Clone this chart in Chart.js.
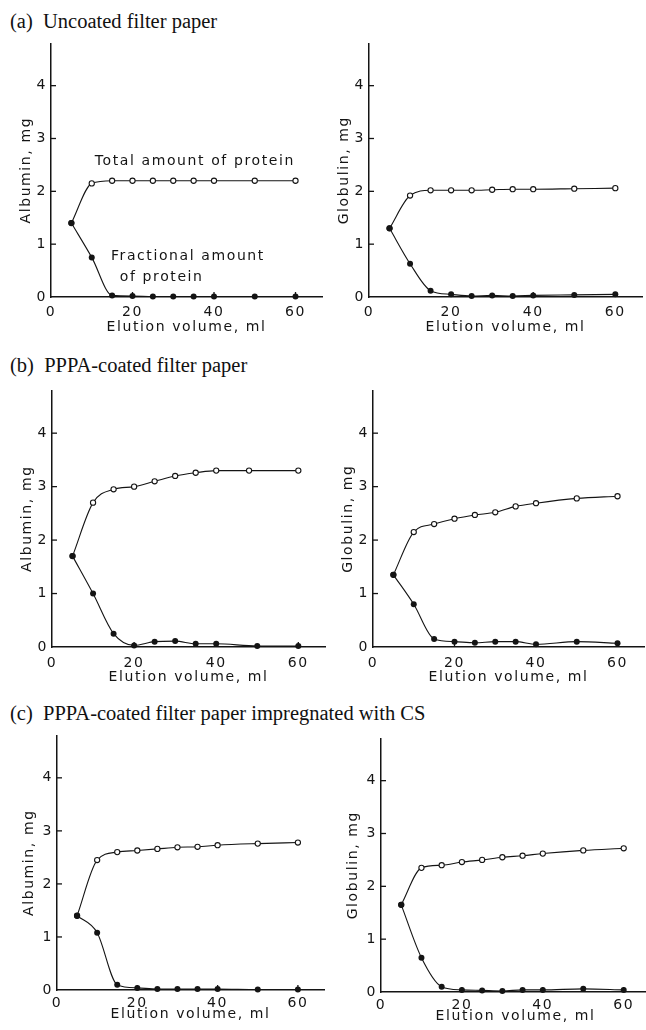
<!DOCTYPE html>
<html>
<head>
<meta charset="utf-8">
<script src="https://cdn.jsdelivr.net/npm/chart.js@4.4.1/dist/chart.umd.min.js"></script>
<style>
    body { margin: 0; background: #fff; width: 646px; height: 1030px; overflow: hidden; position: relative; }
    .cap { position: absolute; left: 10px; font-family: "Liberation Serif", serif; font-size: 20.5px; color: #111; white-space: nowrap; line-height: 22px; }
    canvas { position: absolute; }
</style>
</head>
<body>
<div class="cap" style="top:10px">(a)&nbsp; Uncoated filter paper</div>
<div class="cap" style="top:354px">(b)&nbsp; PPPA-coated filter paper</div>
<div class="cap" style="top:702px">(c)&nbsp; PPPA-coated filter paper impregnated with CS</div>

<canvas id="aL"></canvas>
<canvas id="aR"></canvas>
<canvas id="bL"></canvas>
<canvas id="bR"></canvas>
<canvas id="cL"></canvas>
<canvas id="cR"></canvas>

<script>
// elution volume (ml) at which fractions were taken
const volume = [5, 10, 15, 20, 25, 30, 35, 40, 50, 60];
const volumeAlbuminTotalB = [5, 10, 15, 20, 25, 30, 35, 40, 48, 60];
const xTicks = [0, 20, 40, 60];
const yTicks = [0, 1, 2, 3, 4];

// (a) uncoated filter paper
const albuminTotalA = [1.4, 2.15, 2.2, 2.2, 2.2, 2.2, 2.2, 2.2, 2.2, 2.2];
const albuminFracA = [1.4, 0.75, 0.03, 0.02, 0.01, 0.01, 0.01, 0.01, 0.01, 0.01];
const globulinTotalA = [1.3, 1.92, 2.02, 2.02, 2.02, 2.03, 2.04, 2.04, 2.05, 2.06];
const globulinFracA = [1.3, 0.63, 0.12, 0.05, 0.02, 0.03, 0.02, 0.03, 0.04, 0.05];

// (b) PPPA-coated filter paper
const albuminTotalB = [1.7, 2.7, 2.95, 3.0, 3.1, 3.2, 3.26, 3.3, 3.3, 3.3];
const albuminFracB = [1.7, 1.0, 0.25, 0.03, 0.1, 0.11, 0.06, 0.06, 0.02, 0.02];
const globulinTotalB = [1.35, 2.15, 2.3, 2.4, 2.47, 2.52, 2.63, 2.69, 2.78, 2.82];
const globulinFracB = [1.35, 0.8, 0.15, 0.1, 0.08, 0.1, 0.1, 0.05, 0.1, 0.07];

// (c) PPPA-coated filter paper impregnated with CS
const albuminTotalC = [1.4, 2.45, 2.6, 2.63, 2.66, 2.69, 2.7, 2.73, 2.76, 2.78];
const albuminFracC = [1.4, 1.08, 0.1, 0.04, 0.02, 0.02, 0.02, 0.02, 0.01, 0.01];
const globulinTotalC = [1.65, 2.35, 2.4, 2.46, 2.5, 2.55, 2.58, 2.62, 2.68, 2.72];
const globulinFracC = [1.65, 0.65, 0.1, 0.04, 0.03, 0.02, 0.04, 0.04, 0.06, 0.04];

const INK = '#141414';
const FONT = { family: 'DejaVu Sans', size: 14 };
const Y_W = 50, TOP_PAD = 12, RIGHT_PAD = 6, X_H = 44;

function toPoints(xs, ys) {
    return xs.map((x, i) => ({ x: x, y: ys[i] }));
}

// wide lettering like the original typewriter-style labels
const spacing = {
    id: 'spacing',
    beforeUpdate(chart) { chart.ctx.letterSpacing = '1.6px'; },
    beforeDraw(chart) { chart.ctx.letterSpacing = '1.6px'; }
};

// tick marks point inwards in the original
const innerTicks = {
    id: 'innerTicks',
    beforeDatasetsDraw(chart) {
        const { ctx, chartArea, scales } = chart;
        ctx.save();
        ctx.strokeStyle = INK;
        ctx.lineWidth = 1.3;
        scales.x.ticks.forEach(t => {
            if (t.value === 0) return;
            const px = scales.x.getPixelForValue(t.value);
            ctx.beginPath();
            ctx.moveTo(px, chartArea.bottom);
            ctx.lineTo(px, chartArea.bottom - 5);
            ctx.stroke();
        });
        scales.y.ticks.forEach(t => {
            if (t.value === 0) return;
            const py = scales.y.getPixelForValue(t.value);
            ctx.beginPath();
            ctx.moveTo(chartArea.left, py);
            ctx.lineTo(chartArea.left + 5, py);
            ctx.stroke();
        });
        ctx.restore();
    }
};

const notes = {
    id: 'notes',
    afterDatasetsDraw(chart, args, opts) {
        if (!opts.items) return;
        const { ctx, scales } = chart;
        ctx.save();
        ctx.fillStyle = INK;
        ctx.font = `${FONT.size}px "${FONT.family}"`;
        ctx.textBaseline = 'middle';
        opts.items.forEach(n => {
            ctx.textAlign = n.align;
            ctx.fillText(n.text, scales.x.getPixelForValue(n.x), scales.y.getPixelForValue(n.y));
        });
        ctx.restore();
    }
};

Chart.register(spacing, innerTicks, notes);

function renderPanel(canvasId, box, yLabel, total, frac, gaps, noteItems) {
    const canvas = document.getElementById(canvasId);
    const w = Y_W + (box.right - box.left) + RIGHT_PAD;
    const h = TOP_PAD + (box.bottom - box.top) + X_H;
    canvas.width = w;
    canvas.height = h;
    canvas.style.left = (box.left - Y_W) + 'px';
    canvas.style.top = (box.top - TOP_PAD) + 'px';

    new Chart(canvas.getContext('2d'), {
        type: 'line',
        data: {
            datasets: [{
                label: 'Fractional amount of protein',
                data: frac,
                borderColor: INK,
                borderWidth: 1.1,
                pointRadius: 3,
                pointBackgroundColor: INK,
                pointBorderWidth: 0,
                cubicInterpolationMode: 'monotone',
                clip: false
            }, {
                label: 'Total amount of protein',
                data: total,
                borderColor: INK,
                borderWidth: 1.1,
                pointRadius: 2.6,
                pointBackgroundColor: '#fff',
                pointBorderColor: INK,
                pointBorderWidth: 1.1,
                cubicInterpolationMode: 'monotone',
                clip: false
            }]
        },
        options: {
            responsive: false,
            animation: false,
            events: [],
            layout: { padding: { left: 0, top: TOP_PAD, right: RIGHT_PAD, bottom: 0 } },
            scales: {
                x: {
                    type: 'linear',
                    min: 0,
                    max: 66.5,
                    afterFit: s => { s.height = X_H; },
                    afterBuildTicks: s => { s.ticks = xTicks.map(v => ({ value: v })); },
                    grid: { display: false, drawTicks: false },
                    border: { display: true, color: INK, width: 1.5 },
                    ticks: { color: INK, font: FONT, padding: gaps.xTick, maxRotation: 0, autoSkip: false },
                    title: { display: true, text: 'Elution volume, ml', color: INK, font: FONT, padding: { top: 0, bottom: gaps.xTitle } }
                },
                y: {
                    min: 0,
                    max: 4.8,
                    afterFit: s => { s.width = Y_W; },
                    afterBuildTicks: s => { s.ticks = yTicks.map(v => ({ value: v })); },
                    grid: { display: false, drawTicks: false },
                    border: { display: true, color: INK, width: 1.5 },
                    ticks: { color: INK, font: FONT, padding: 4 },
                    title: { display: true, text: yLabel, color: INK, font: FONT, padding: { top: gaps.yTitle, bottom: 0 } }
                }
            },
            plugins: {
                legend: { display: false },
                tooltip: { enabled: false },
                notes: { items: noteItems || null }
            }
        }
    });
}

const gapsA = { xTick: 7, xTitle: 5, yTitle: 17 };
const gapsB = { xTick: 8, xTitle: 5, yTitle: 17 };
const gapsC = { xTick: 5, xTitle: 11, yTitle: 14 };

renderPanel('aL', { left: 51, top: 43, right: 322, bottom: 297 }, 'Albumin, mg',
    toPoints(volume, albuminTotalA), toPoints(volume, albuminFracA), gapsA, [
        { text: 'Total amount of protein', x: 35.3, y: 2.57, align: 'center' },
        { text: 'Fractional amount', x: 14.7, y: 0.76, align: 'left' },
        { text: 'of protein', x: 16.9, y: 0.38, align: 'left' }
    ]);
renderPanel('aR', { left: 369, top: 43, right: 642, bottom: 297 }, 'Globulin, mg',
    toPoints(volume, globulinTotalA), toPoints(volume, globulinFracA), gapsA);

renderPanel('bL', { left: 52, top: 390, right: 325, bottom: 647 }, 'Albumin, mg',
    toPoints(volumeAlbuminTotalB, albuminTotalB), toPoints(volume, albuminFracB), gapsB);
renderPanel('bR', { left: 373, top: 390, right: 644, bottom: 647 }, 'Globulin, mg',
    toPoints(volume, globulinTotalB), toPoints(volume, globulinFracB), gapsB);

renderPanel('cL', { left: 57, top: 735, right: 324, bottom: 990 }, 'Albumin, mg',
    toPoints(volume, albuminTotalC), toPoints(volume, albuminFracC), gapsC);
renderPanel('cR', { left: 381, top: 738, right: 650, bottom: 992 }, 'Globulin, mg',
    toPoints(volume, globulinTotalC), toPoints(volume, globulinFracC), gapsC);
</script>
</body>
</html>
